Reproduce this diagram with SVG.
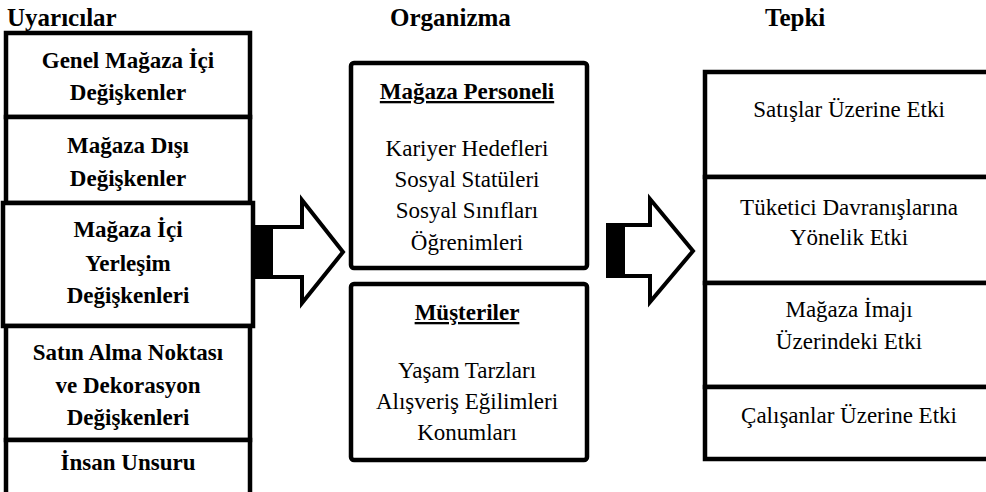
<svg xmlns="http://www.w3.org/2000/svg" width="986" height="492" viewBox="0 0 986 492" font-family="Liberation Serif, serif">
<style>
.box{fill:#fff;stroke:#000;stroke-width:4.5}
.b{font-weight:bold;font-size:23px;text-anchor:middle}
.r{font-size:23px;text-anchor:middle}
.h{font-weight:bold;font-size:25px}
.u{text-decoration:underline}
.arrow{fill:#fff;stroke:#000;stroke-width:4;stroke-linejoin:miter}
</style>
<rect width="986" height="492" fill="#fff"/>
<g id="headings">
<text class="h" x="7" y="26">Uyarıcılar</text>
<text class="h" x="390" y="26">Organizma</text>
<text class="h" x="765" y="26">Tepki</text>
</g>
<g id="connectors">
<g id="arrow1">
<polygon class="arrow" points="256,227 302,227 302,200 343,252 302,303 302,277 256,277"/>
<rect x="256" y="227" width="17" height="50" fill="#000"/>
</g>
<g id="arrow2">
<polygon class="arrow" points="608,225 650,225 650,199 693,251 650,302 650,276 608,276"/>
<rect x="608" y="225" width="17" height="51" fill="#000"/>
</g>
</g>
<g id="stimuli">
<g id="s1">
<rect class="box" x="6" y="33" width="244" height="84"/>
<text class="b" x="128" y="68">Genel Mağaza İçi</text>
<text class="b" x="128" y="100">Değişkenler</text>
</g>
<g id="s2">
<rect class="box" x="6" y="117" width="244" height="86"/>
<text class="b" x="128" y="153">Mağaza Dışı</text>
<text class="b" x="128" y="186">Değişkenler</text>
</g>
<g id="s3">
<rect class="box" x="3" y="203" width="250" height="123"/>
<text class="b" x="128" y="237">Mağaza İçi</text>
<text class="b" x="128" y="271">Yerleşim</text>
<text class="b" x="128" y="303">Değişkenleri</text>
</g>
<g id="s4">
<rect class="box" x="6" y="326" width="244" height="114"/>
<text class="b" x="128" y="360">Satın Alma Noktası</text>
<text class="b" x="128" y="393">ve Dekorasyon</text>
<text class="b" x="128" y="425">Değişkenleri</text>
</g>
<g id="s5">
<rect class="box" x="6" y="440" width="244" height="70"/>
<text class="b" x="128" y="470">İnsan Unsuru</text>
</g>
</g>
<g id="organism">
<g id="o1">
<rect class="box" x="351" y="63" width="236" height="205" rx="3"/>
<text class="b u" x="467" y="99">Mağaza Personeli</text>
<text class="r" x="467" y="156">Kariyer Hedefleri</text>
<text class="r" x="467" y="187">Sosyal Statüleri</text>
<text class="r" x="467" y="218">Sosyal Sınıfları</text>
<text class="r" x="467" y="250">Öğrenimleri</text>
</g>
<g id="o2">
<rect class="box" x="351" y="284" width="236" height="176" rx="3"/>
<text class="b u" x="467" y="320">Müşteriler</text>
<text class="r" x="467" y="378">Yaşam Tarzları</text>
<text class="r" x="467" y="409">Alışveriş Eğilimleri</text>
<text class="r" x="467" y="440">Konumları</text>
</g>
</g>
<g id="response">
<g id="t1">
<rect class="box" x="705" y="72" width="300" height="105"/>
<text class="r" x="849" y="117">Satışlar Üzerine Etki</text>
</g>
<g id="t2">
<rect class="box" x="705" y="177" width="300" height="106"/>
<text class="r" x="849" y="215">Tüketici Davranışlarına</text>
<text class="r" x="849" y="245">Yönelik Etki</text>
</g>
<g id="t3">
<rect class="box" x="705" y="283" width="300" height="104"/>
<text class="r" x="849" y="317">Mağaza İmajı</text>
<text class="r" x="849" y="349">Üzerindeki Etki</text>
</g>
<g id="t4">
<rect class="box" x="705" y="387" width="300" height="72"/>
<text class="r" x="849" y="423">Çalışanlar Üzerine Etki</text>
</g>
</g>
</svg>
